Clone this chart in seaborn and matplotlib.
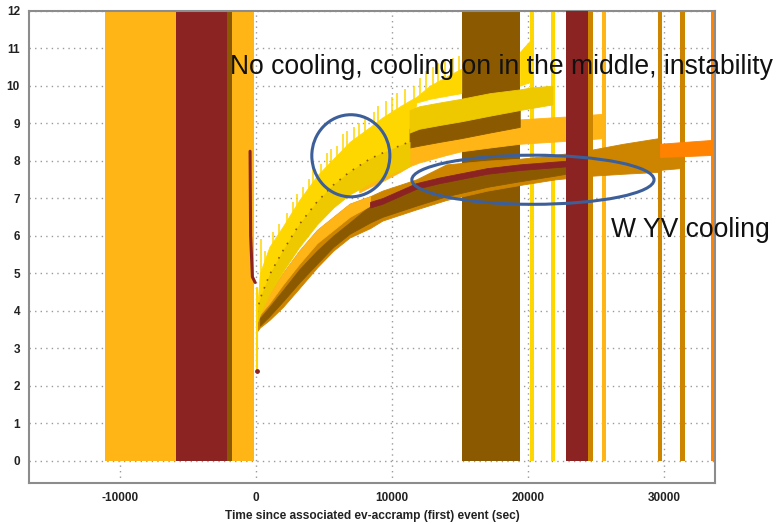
"""Temperature-like traces vs. time since ev-accramp, with run bands and notes."""

import matplotlib

matplotlib.use("Agg")
import matplotlib.pyplot as plt
import pandas as pd
import seaborn as sns
from matplotlib.patches import Ellipse
from matplotlib.ticker import MultipleLocator

AMBER = "#FFB515"
DARK_RED = "#8B2323"
BROWN = "#8B5A00"
GOLDENROD = "#CD8500"
ORANGE = "#FF8200"
YELLOW = "#FFD700"
GOLD = "#EEC900"
BLUE = "#3D5F99"

# vertical run bands (data x range, colour)
band_start = [-11100, -5900, -2100, -1740, 15120, 20150, 21690, 25420, 29580, 31180, 33430]
band_end = [-5900, -2100, -1740, -150, 19410, 20440, 21990, 25710, 29870, 31540, 33800]
band_color = [AMBER, DARK_RED, BROWN, AMBER, BROWN, YELLOW, YELLOW, AMBER, GOLDENROD, GOLDENROD, ORANGE]
# bands that sit on top of the traces
top_band_start = [22770, 24390]
top_band_end = [24390, 24800]
top_band_color = [DARK_RED, GOLDENROD]
band_top = 12

# bright yellow trace (two pieces)
yel_a_x = [100, 300, 1000, 2000, 3200, 4500, 5700, 6900, 8400, 9300, 10600, 11300, 11800, 12800, 14300, 15100]
yel_a_lo = [3.9, 4.25, 4.9, 5.55, 6.25, 6.85, 7.3, 7.65, 8.0, 8.15, 8.35, 8.45, 9.55, 9.65, 9.75, 9.8]
yel_a_hi = [4.05, 5.0, 5.7, 6.25, 6.95, 7.6, 8.05, 8.5, 8.9, 9.15, 9.45, 9.6, 9.7, 10.0, 10.3, 10.45]
yel_b_x = [19410, 20150]
yel_b_lo = [10.0, 10.1]
yel_b_hi = [10.9, 11.2]
spike_x = [400, 700, 1300, 1700, 2300, 2700, 3000, 3500, 3900, 4200, 4800, 5200, 5500, 6000, 6400, 6700, 7200,
           7600, 8000, 8700, 9000, 9600, 10000, 10400, 11000, 11600, 12100, 12500, 13000, 13400, 13900, 14500, 14900]
spike_base = [4.9, 5.2, 5.7, 5.95, 6.25, 6.5, 6.7, 6.95, 7.15, 7.3, 7.55, 7.7, 7.8, 7.95, 8.15, 8.25, 8.4,
              8.5, 8.65, 8.8, 8.9, 9.05, 9.15, 9.25, 9.4, 9.5, 9.65, 9.75, 9.9, 9.95, 10.05, 10.2, 10.25]
spike_top = [5.9, 5.6, 6.1, 6.3, 6.6, 6.9, 7.1, 7.3, 7.5, 7.8, 7.9, 8.2, 8.3, 8.4, 8.7, 8.8, 8.9,
             9.0, 9.2, 9.3, 9.45, 9.6, 9.7, 9.8, 9.9, 10.0, 10.2, 10.4, 10.5, 10.6, 10.7, 10.75, 10.8]

# gold trace (steps up around 11300)
gold_a_x = [100, 300, 1000, 2000, 3200, 4500, 5700, 6900, 8400, 9300, 10600, 11300]
gold_a_lo = [3.7, 3.9, 4.45, 5.05, 5.7, 6.3, 6.75, 7.1, 7.4, 7.55, 7.75, 7.85]
gold_a_hi = [3.95, 4.3, 4.95, 5.6, 6.3, 6.9, 7.35, 7.7, 8.05, 8.2, 8.4, 8.5]
gold_b_x = [11300, 12000, 13500, 15100, 17200, 19400, 20200, 21800]
gold_b_lo = [8.75, 8.85, 8.95, 9.05, 9.2, 9.35, 9.4, 9.5]
gold_b_hi = [9.35, 9.45, 9.55, 9.65, 9.8, 9.9, 9.95, 10.0]

# brown trace, upper part
brown_up_x = [11300, 12000, 13500, 15100, 17200, 19400]
brown_up_lo = [8.35, 8.4, 8.5, 8.6, 8.75, 8.9]
brown_up_hi = [8.85, 8.95, 9.05, 9.15, 9.3, 9.45]

# amber trace, upper part
amber_up_x = [7600, 8400, 9300, 10600, 11300, 12000, 14000, 15100, 17200, 19400, 21600, 23800, 25500]
amber_up_lo = [7.15, 7.3, 7.45, 7.7, 7.85, 7.95, 8.15, 8.25, 8.35, 8.45, 8.5, 8.55, 8.6]
amber_up_hi = [7.4, 7.65, 7.9, 8.25, 8.5, 8.6, 8.8, 8.9, 9.0, 9.1, 9.15, 9.2, 9.25]

# lower bundle
golden_x = [100, 300, 1000, 2000, 3200, 4500, 5700, 6900, 8400, 9300, 11800, 14000, 17000, 19400, 22000, 24800, 27000, 29600]
golden_lo = [3.45, 3.55, 3.75, 4.1, 4.6, 5.15, 5.6, 5.95, 6.2, 6.4, 6.7, 6.95, 7.2, 7.35, 7.5, 7.6, 7.65, 7.7]
golden_hi = [3.9, 4.2, 4.45, 5.0, 5.6, 6.15, 6.5, 6.85, 7.05, 7.2, 7.5, 7.9, 8.0, 8.05, 8.15, 8.3, 8.45, 8.6]
golden_b_x = [29600, 31180]
golden_b_lo = [7.75, 7.8]
golden_b_hi = [8.1, 8.15]
orange_x = [29700, 31500, 33430]
orange_lo = [8.1, 8.12, 8.15]
orange_hi = [8.45, 8.5, 8.55]
brown_lo_x = [300, 1000, 2000, 3200, 4500, 5700, 6900, 8400, 9300, 11800, 14000, 17000, 19400, 22000, 24400]
brown_lo_lo = [3.6, 3.85, 4.25, 4.75, 5.25, 5.7, 6.05, 6.35, 6.5, 6.8, 7.05, 7.3, 7.45, 7.6, 7.75]
brown_lo_hi = [3.8, 4.1, 4.55, 5.1, 5.6, 6.0, 6.35, 6.8, 6.95, 7.25, 7.55, 7.7, 7.8, 7.9, 8.0]
amber_lo_x = [100, 300, 1000, 2000, 3200, 4500, 5700, 6900, 8400]
amber_lo_lo = [3.7, 3.9, 4.2, 4.7, 5.25, 5.8, 6.15, 6.5, 6.8]
amber_lo_hi = [3.9, 4.2, 4.45, 5.0, 5.6, 6.15, 6.5, 6.85, 7.05]
red_x = [8400, 9300, 11800, 13500, 17000, 19400, 22900]
red_lo = [6.75, 6.85, 7.25, 7.4, 7.65, 7.75, 7.85]
red_hi = [6.9, 7.0, 7.4, 7.55, 7.8, 7.9, 8.0]

# drops just before / after t = 0
red_drop_x = [-420, -380, -250, -50]
red_drop_y = [8.25, 6.0, 4.9, 4.75]
yel_drop_x = [60, 60]
yel_drop_y = [4.6, 2.4]

x_ticks = [-10000, 0, 10000, 20000, 30000]
y_ticks = list(range(13))

note_top = "No cooling, cooling on in the middle, instability"
note_low = "W YV cooling"
x_label = "Time since associated ev-accramp (first) event (sec)"


def band(ax, x, lo, hi, color, z=3):
    ax.fill_between(x, lo, hi, color=color, lw=0.6, edgecolor=color, zorder=z)


def main() -> None:
    sns.set_style("white")
    plt.rcParams["font.family"] = ["Liberation Sans", "DejaVu Sans"]

    fig = plt.figure(figsize=(7.77, 5.24), dpi=100)
    ax = fig.add_axes([0.0373, 0.0782, 0.8829, 0.9014])

    bands = pd.DataFrame({"start": band_start, "end": band_end, "color": band_color})
    ax.bar(bands["start"], band_top, width=bands["end"] - bands["start"], align="edge",
           color=bands["color"], linewidth=0, zorder=2)

    # lower bundle
    band(ax, golden_x, golden_lo, golden_hi, GOLDENROD)
    band(ax, golden_b_x, golden_b_lo, golden_b_hi, GOLDENROD)
    band(ax, brown_lo_x, brown_lo_lo, brown_lo_hi, BROWN)
    band(ax, amber_lo_x, amber_lo_lo, amber_lo_hi, AMBER)
    band(ax, red_x, red_lo, red_hi, DARK_RED)
    band(ax, orange_x, orange_lo, orange_hi, ORANGE)

    # upper traces
    ax.vlines(spike_x, spike_base, spike_top, color=YELLOW, lw=1.1, zorder=3)
    band(ax, yel_a_x, yel_a_lo, yel_a_hi, YELLOW)
    band(ax, yel_b_x, yel_b_lo, yel_b_hi, YELLOW)
    band(ax, amber_up_x, amber_up_lo, amber_up_hi, AMBER)
    band(ax, brown_up_x, brown_up_lo, brown_up_hi, BROWN)
    band(ax, gold_a_x, gold_a_lo, gold_a_hi, GOLD)
    band(ax, gold_b_x, gold_b_lo, gold_b_hi, GOLD)
    sns.lineplot(x=gold_a_x, y=gold_a_hi, ax=ax, color=BROWN, lw=1.2, linestyle=(0, (1, 4)), zorder=4)

    sns.lineplot(x=red_drop_x, y=red_drop_y, ax=ax, color=DARK_RED, lw=2.2, sort=False, zorder=4)
    ax.plot(yel_drop_x, yel_drop_y, color=YELLOW, lw=1.5, zorder=4)
    ax.scatter([yel_drop_x[1]], [yel_drop_y[1]], color=DARK_RED, s=6, zorder=5)

    tops = pd.DataFrame({"start": top_band_start, "end": top_band_end, "color": top_band_color})
    ax.bar(tops["start"], band_top, width=tops["end"] - tops["start"], align="edge",
           color=tops["color"], linewidth=0, zorder=5)

    # annotations
    ax.add_patch(Ellipse((6985, 8.13), 5735, 2.19, fill=False, edgecolor=BLUE, lw=2.2, zorder=6))
    ax.add_patch(Ellipse((20370, 7.49), 17800, 1.31, fill=False, edgecolor=BLUE, lw=2.2, zorder=6))
    ax.text(-1910, 10.32, note_top, fontsize=19.1, va="baseline", ha="left", color="#111111",
            clip_on=False, zorder=7)
    ax.text(26100, 5.96, note_low, fontsize=19.1, va="baseline", ha="left", color="#111111",
            clip_on=False, zorder=7)

    ax.set_xlim(-16670, 33750)
    ax.set_ylim(-0.6, 12)
    ax.set_xticks(x_ticks)
    ax.set_xticklabels([str(t) for t in x_ticks])
    ax.set_yticks(y_ticks)
    ax.xaxis.set_minor_locator(MultipleLocator(5000))
    ax.yaxis.set_minor_locator(MultipleLocator(0.5))
    ax.grid(True, which="major", color="#9a9a9a", lw=1.0, linestyle=(0, (1, 3)), zorder=0)
    ax.set_axisbelow(True)
    ax.tick_params(which="both", direction="out", color="#555555", width=1.0, labelsize=8.5,
                   labelcolor="#222222")
    ax.tick_params(which="major", length=4, pad=2.5)
    ax.tick_params(which="minor", length=3)
    for lab in ax.get_xticklabels() + ax.get_yticklabels():
        lab.set_fontweight("bold")
    for spine in ax.spines.values():
        spine.set_color("#8c8c8c")
        spine.set_linewidth(1.5)
    ax.set_xlabel(x_label, fontsize=8.6, fontweight="bold", color="#222222", labelpad=4)
    ax.set_ylabel("")

    fig.savefig("out.png", dpi=100)
    plt.close(fig)


if __name__ == "__main__":
    main()
